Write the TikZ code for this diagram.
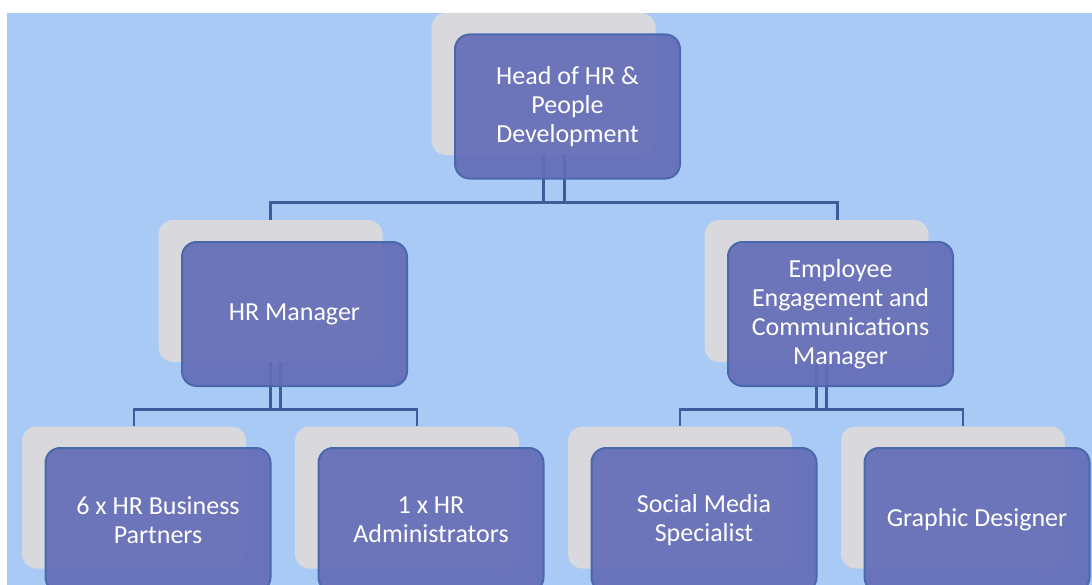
\documentclass[tikz,border=0pt]{standalone}
\usepackage{fontspec}
\setmainfont{Carlito}
\usepackage{tikz}
\usetikzlibrary{calc}
\definecolor{chart_bg}{RGB}{170,202,246}
\definecolor{card_grey}{RGB}{217,216,221}
\definecolor{card_blue}{RGB}{99,108,184}
\definecolor{card_edge}{RGB}{74,104,172}
\definecolor{link_blue}{RGB}{63,91,154}
\tikzset{
  backbox/.style={fill=card_grey, rounded corners=11pt, inner sep=0pt,
    minimum width=168pt, minimum height=106.5pt},
  rolebox/.style={fill=card_blue, fill opacity=0.92, text opacity=1,
    draw=card_edge, line width=1.5pt, rounded corners=11pt, inner sep=0pt,
    minimum width=168.75pt, minimum height=108pt,
    text=white, align=center, font=\fontsize{19.5}{21.8}\selectfont},
  link/.style={draw=link_blue, line width=2pt},
}

\begin{document}
\begin{tikzpicture}[x=0.75pt,y=-0.75pt]
  \useasboundingbox (0,0) rectangle (1092,585);
  \clip (0,0) rectangle (1092,585);
  \fill[chart_bg] (7,13) rectangle (1092,585); % background
  % grey cards behind
  \node[backbox] (headbk) at (543.5,84) {};
  \node[backbox] (hrmbk)  at (270.5,291) {};
  \node[backbox] (eecmbk) at (816.5,291) {};
  \node[backbox] (hrbpbk) at (134,497.5) {};
  \node[backbox] (hradbk) at (407,497.5) {};
  \node[backbox] (smsbk)  at (680,497.5) {};
  \node[backbox] (gdbk)   at (953,497.5) {};
  % links, two lines out of every parent (they cross on the bar)
  \draw[link] (headbk.south) -- ++(0,47) -| ($(eecmbk.north)+(21,0)$);
  \draw[link] ($(headbk.south)+(21,0)$) -- ++(0,47) -| (hrmbk.north);
  \draw[link] (hrmbk.south) -- ++(0,47) -| ($(hradbk.north)+(10,0)$);
  \draw[link] ($(hrmbk.south)+(10,0)$) -- ++(0,47) -| (hrbpbk.north);
  \draw[link] (eecmbk.south) -- ++(0,47) -| ($(gdbk.north)+(10,0)$);
  \draw[link] ($(eecmbk.south)+(10,0)$) -- ++(0,47) -| (smsbk.north);
  % role cards
  \node[rolebox] (head) at (567.5,106.5) {Head of HR \&\\People\\Development};
  \node[rolebox] (hrm)  at (294.5,314) {HR Manager};
  \node[rolebox] (eecm) at (840.5,314) {Employee\\Engagement and\\Communications\\Manager};
  \node[rolebox] (hrbp) at (158,520) {6 x HR Business\\Partners};
  \node[rolebox] (hrad) at (431,520) {1 x HR\\Administrators};
  \node[rolebox] (sms)  at (704,520) {Social Media\\Specialist};
  \node[rolebox] (gd)   at (977,520) {Graphic Designer};
\end{tikzpicture}
\end{document}
